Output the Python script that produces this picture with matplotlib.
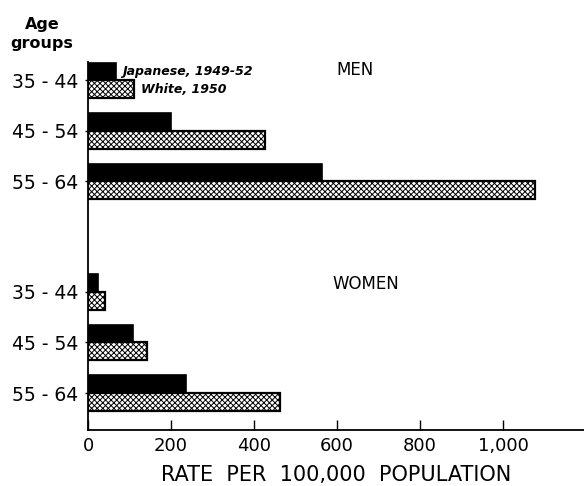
import matplotlib.pyplot as plt
import numpy as np

plt.rcParams['font.family'] = ['DejaVu Sans']
plt.rcParams['hatch.linewidth'] = 0.7

age_groups = ["35-44", "45-54", "55-64", "35-44", "45-54", "55-64"]
japanese = [67, 200, 564, 23, 109, 236]   # Japanese, 1949-52
white = [112, 427, 1077, 42, 141, 462]    # White, 1950
xticks = [0, 200, 400, 600, 800, 1000]
xtick_labels = ["0", "200", "400", "600", "800", "1,000"]

pos = np.array([0, 1, 2, 4.18, 5.18, 6.18])
h = 0.35

fig = plt.figure(figsize=(5.84, 4.86), dpi=100)
ax = fig.add_axes([0.1507, 0.1152, 0.8493, 0.7572])

ax.barh(pos - h / 2, japanese, height=h, color="black", edgecolor="black", linewidth=1.2)
ax.barh(pos + h / 2, white, height=h, color="white", edgecolor="black",
        linewidth=1.6, hatch="xxxxxx")

ax.set_xlim(0, 1195)
ax.set_ylim(pos[-1] + 0.73, pos[0] - 0.36)

ax.set_yticks(pos)
ax.set_yticklabels([g.replace("-", " - ") for g in age_groups], fontsize=13.5)
ax.tick_params(axis="y", length=2, width=1, pad=5)
ax.set_xticks(xticks)
ax.set_xticklabels(xtick_labels, fontsize=13)
ax.tick_params(axis="x", direction="in", length=7, width=1, pad=5)

for s in ["top", "right"]:
    ax.spines[s].set_visible(False)
ax.spines["left"].set_linewidth(1.3)
ax.spines["bottom"].set_linewidth(1.3)

ax.set_xlabel("RATE  PER  100,000  POPULATION", fontsize=15, labelpad=7)

ax.text(643, pos[0] - 0.2, "MEN", fontsize=12, ha="center", va="center")
ax.text(670, pos[3] - 0.16, "WOMEN", fontsize=12, ha="center", va="center")

ax.text(82, pos[0] - h / 2, "Japanese, 1949-52", fontsize=9, style="italic",
        fontweight="bold", va="center")
ax.text(128, pos[0] + h / 2, "White, 1950", fontsize=9, style="italic",
        fontweight="bold", va="center")

fig.text(0.072, 0.93, "Age\ngroups", fontsize=11.5, fontweight="bold",
         ha="center", va="center", linespacing=1.3)

fig.savefig("out.png", dpi=100)
